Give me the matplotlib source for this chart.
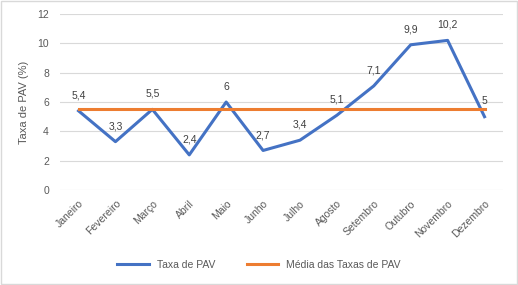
import matplotlib
matplotlib.use('Agg')
import matplotlib.pyplot as plt
import numpy as np

months = ['Janeiro', 'Fevereiro', 'Março', 'Abril', 'Maio', 'Junho',
          'Julho', 'Agosto', 'Setembro', 'Outubro', 'Novembro', 'Dezembro']
taxa = [5.4, 3.3, 5.5, 2.4, 6, 2.7, 3.4, 5.1, 7.1, 9.9, 10.2, 5]
media = [5.5] * 12
y_ticks = [0, 2, 4, 6, 8, 10, 12]

plt.rcParams['font.family'] = ['Liberation Sans', 'DejaVu Sans']
txt = '#595959'

fig = plt.figure(figsize=(5.18, 2.85), dpi=100, facecolor='white')
ax = fig.add_axes([0.116, 0.333, 0.855, 0.618])

x = np.arange(len(months))
ax.plot(x, taxa, color='#4472c4', linewidth=2.2, label='Taxa de PAV', zorder=3)
ax.plot(x, media, color='#ed7d31', linewidth=2.2, label='Média das Taxas de PAV', zorder=3)

for xi, v in zip(x, taxa):
    lab = ('%g' % v).replace('.', ',')
    ax.annotate(lab, (xi, v), xytext=(0, 7.5), textcoords='offset points',
                ha='center', va='bottom', fontsize=7.5, color='#404040')

ax.set_xlim(-0.5, len(months) - 0.5)
ax.set_ylim(0, 12)
ax.set_yticks(y_ticks)
ax.set_xticks(x)
ax.set_xticklabels(months, rotation=45, ha='right', rotation_mode='anchor')
ax.tick_params(axis='both', length=0, labelsize=7.5, colors=txt)
ax.tick_params(axis='y', pad=8)
ax.tick_params(axis='x', pad=6)
ax.grid(axis='y', color='#d9d9d9', linewidth=0.8)
ax.set_axisbelow(True)
for s in ax.spines.values():
    s.set_visible(False)
ax.set_ylabel('Taxa de PAV (%)', fontsize=8, color=txt, labelpad=6)

leg = fig.legend(loc='lower center', bbox_to_anchor=(0.5, 0.02), ncol=2,
                 frameon=False, fontsize=7.5, handlelength=3, columnspacing=3)
for t in leg.get_texts():
    t.set_color(txt)

fig.patches.append(plt.Rectangle((0.002, 0.003), 0.996, 0.994, transform=fig.transFigure,
                                 fill=False, edgecolor='#d9d9d9', linewidth=1))

fig.savefig('out.png', dpi=100)
